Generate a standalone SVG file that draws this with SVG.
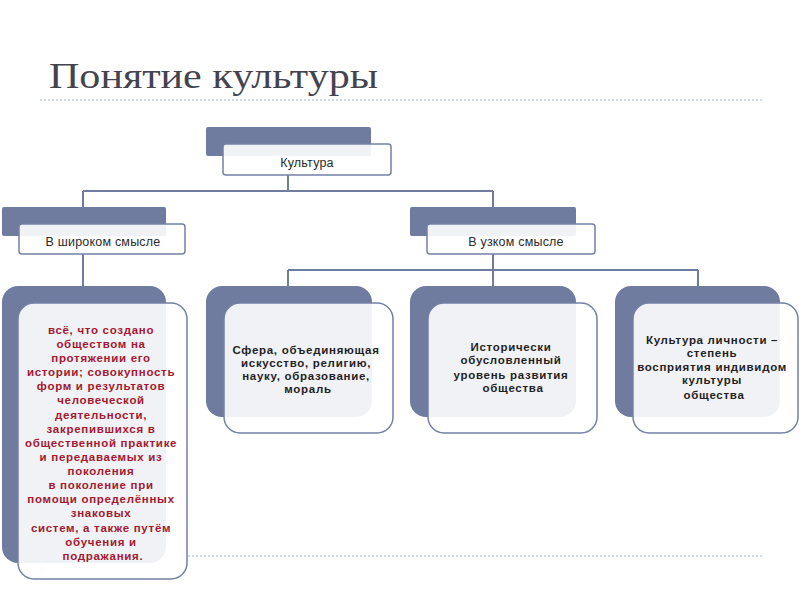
<svg xmlns="http://www.w3.org/2000/svg" width="800" height="600" viewBox="0 0 800 600">
<style>
.dark{fill:#6f7b9f}
.card{fill:#ffffff;fill-opacity:0.9;stroke:#7480a6;stroke-width:1.5}
.conn{stroke:#6f7b9f;stroke-width:2;fill:none}
.dot{stroke:#c2d0dc;stroke-width:1.5;stroke-dasharray:2 2;fill:none}
.lbl{font-family:"Liberation Sans",Arial,sans-serif;font-size:12.5px;fill:#2a2a2a;text-anchor:middle;letter-spacing:0.2px}
.body{font-family:"Liberation Sans",Arial,sans-serif;font-size:11.5px;font-weight:bold;fill:#1f1f1f;text-anchor:middle;letter-spacing:0.7px}
.red{fill:#a3182f}
.title{font-family:"Liberation Serif","Times New Roman",serif;font-size:36px;fill:#44444f}
</style>
<rect width="800" height="600" fill="#ffffff"/>
<text class="title" x="49" y="88" textLength="329" lengthAdjust="spacingAndGlyphs">Понятие культуры</text>
<line class="dot" x1="40" y1="100" x2="762" y2="100"/>
<line class="dot" x1="188" y1="556" x2="762" y2="556"/>
<polygon points="40,565 40,577 48,571" fill="#e4e7f1"/>

<g id="connectors">
<path class="conn" d="M288,175 V191 M83,191 H493 M83,191 V207 M493,191 V207"/>
<path class="conn" d="M83,254 V286"/>
<path class="conn" d="M493,254 V270 M288,270 H698 M288,270 V286 M493,270 V286 M698,270 V286"/>
</g>

<g id="culture">
<rect class="dark" x="206" y="127" width="165" height="29" rx="2"/>
<rect class="card" x="223" y="144" width="168" height="31" rx="3"/>
<text class="lbl" x="307" y="167">Культура</text>
</g>

<g id="broad">
<rect class="dark" x="2" y="207" width="164" height="29" rx="2"/>
<rect class="card" x="19" y="224" width="166" height="30" rx="3"/>
<text class="lbl" x="103" y="246">В широком смысле</text>
</g>

<g id="narrow">
<rect class="dark" x="410" y="207" width="166" height="29" rx="2"/>
<rect class="card" x="427" y="224" width="168" height="30" rx="3"/>
<text class="lbl" x="516" y="246">В узком смысле</text>
</g>

<g id="broad-def">
<rect class="dark" x="2" y="286" width="164" height="277" rx="16"/>
<rect class="card" x="18" y="303" width="169" height="276" rx="16"/>
<text class="body red">
<tspan x="103" y="334">всё, что создано</tspan>
<tspan x="103" y="348">обществом на</tspan>
<tspan x="103" y="362">протяжении его</tspan>
<tspan x="103" y="376">истории; совокупность</tspan>
<tspan x="103" y="390">форм и результатов</tspan>
<tspan x="103" y="404">человеческой</tspan>
<tspan x="103" y="419">деятельности,</tspan>
<tspan x="103" y="433">закрепившихся в</tspan>
<tspan x="103" y="447">общественной практике</tspan>
<tspan x="103" y="461">и передаваемых из</tspan>
<tspan x="103" y="475">поколения</tspan>
<tspan x="103" y="489">в поколение при</tspan>
<tspan x="103" y="503">помощи определённых</tspan>
<tspan x="103" y="517">знаковых</tspan>
<tspan x="103" y="532">систем, а также путём</tspan>
<tspan x="103" y="546">обучения и</tspan>
<tspan x="103" y="560">подражания.</tspan>
</text>
</g>

<g id="sphere">
<rect class="dark" x="206" y="286" width="166" height="131" rx="16"/>
<rect class="card" x="224" y="303" width="169" height="130" rx="16"/>
<text class="body">
<tspan x="308" y="354">Сфера, объединяющая</tspan>
<tspan x="308" y="367">искусство, религию,</tspan>
<tspan x="308" y="380">науку, образование,</tspan>
<tspan x="308" y="393">мораль</tspan>
</text>
</g>

<g id="level">
<rect class="dark" x="410" y="286" width="166" height="131" rx="16"/>
<rect class="card" x="428" y="303" width="169" height="130" rx="16"/>
<text class="body">
<tspan x="513" y="351">Исторически</tspan>
<tspan x="513" y="364">обусловленный</tspan>
<tspan x="513" y="379">уровень развития</tspan>
<tspan x="513" y="392">общества</tspan>
</text>
</g>

<g id="personal">
<rect class="dark" x="615" y="286" width="165" height="131" rx="16"/>
<rect class="card" x="633" y="303" width="165" height="130" rx="16"/>
<text class="body">
<tspan x="714" y="344">Культура личности –</tspan>
<tspan x="714" y="357">степень</tspan>
<tspan x="714" y="371">восприятия индивидом</tspan>
<tspan x="714" y="384">культуры</tspan>
<tspan x="714" y="399">общества</tspan>
</text>
</g>
</svg>
